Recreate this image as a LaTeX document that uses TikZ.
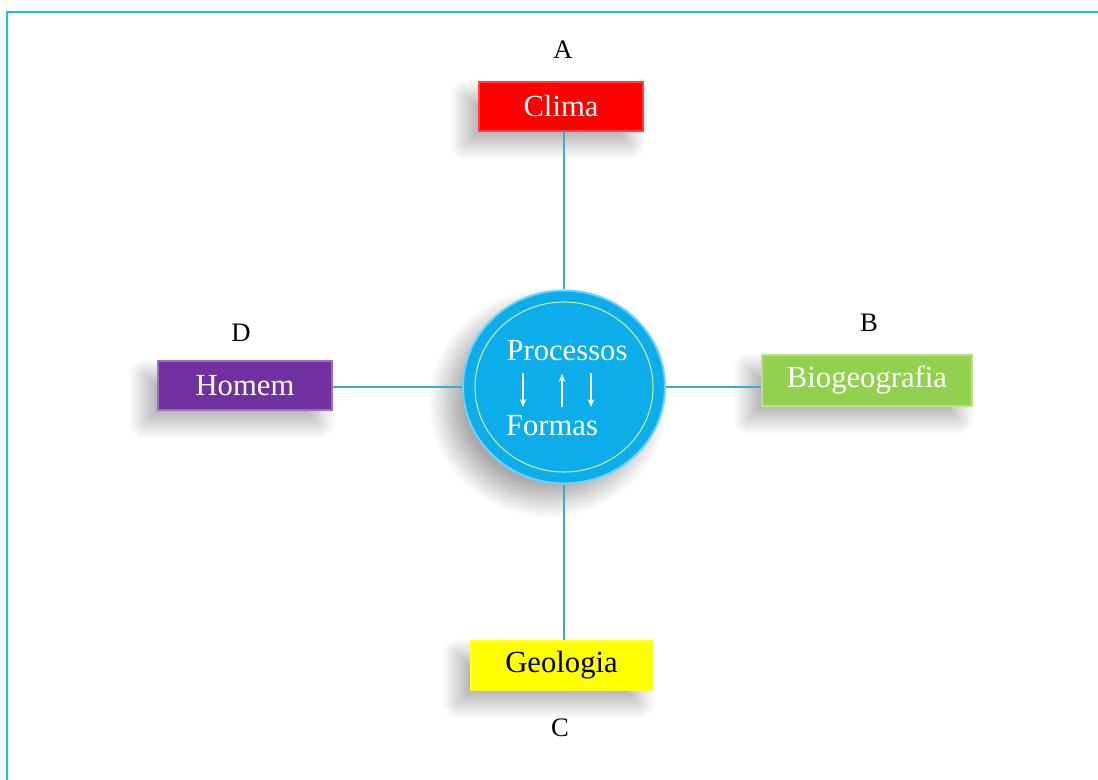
\documentclass[tikz,border=0pt]{standalone}
\usepackage{fontspec}
\setmainfont{Liberation Serif}
\usetikzlibrary{shapes.geometric,shadows.blur,arrows.meta}

\definecolor{framecyan}{HTML}{1CBDEE}
\definecolor{linkblue}{HTML}{3FA9CB}
\definecolor{hubblue}{HTML}{0DACEA}
\definecolor{hubrim}{HTML}{6FD2F5}
\definecolor{hubring}{HTML}{C6F08A}
\definecolor{climared}{HTML}{FF0000}
\definecolor{homempurple}{HTML}{7030A0}
\definecolor{biogreen}{HTML}{92D050}
\definecolor{geoyellow}{HTML}{FFFF00}

\tikzset{
  softshadow/.style={blur shadow={shadow xshift=-10pt, shadow yshift=-10pt,
      shadow blur radius=12pt, shadow blur steps=24, shadow opacity=32}},
  topicbox/.style={rectangle, inner sep=0pt, line width=1pt,
    font=\fontsize{23}{27}\selectfont, softshadow},
  letter/.style={font=\fontsize{20}{24}\selectfont, inner sep=0pt},
  link/.style={draw=linkblue, line width=1.1pt},
  hubtext/.style={font=\fontsize{23}{27}\selectfont, text=white, inner sep=0pt},
  flow/.style={draw=white, line width=0.9pt, -{Stealth[length=6pt,width=5pt]}}
}

\begin{document}
\begin{tikzpicture}[x=0.75pt, y=-0.75pt]
  \useasboundingbox (0,0) rectangle (1098,780);

  % page frame: top and left edges only
  \draw[framecyan, line width=1.6pt] (7,780) -- (7,12) -- (1098,12);

  % central hub
  \node[ellipse, minimum width=151.5pt, minimum height=144.75pt,
        fill=hubblue, draw=hubrim, line width=1.5pt, inner sep=0pt,
        blur shadow={shadow xshift=-12pt, shadow yshift=-12pt,
          shadow blur radius=14pt, shadow blur steps=24, shadow opacity=35}]
        (hub) at (564,387) {};
  \draw[hubring, line width=0.8pt] (hub.center) ellipse [x radius=89, y radius=85];

  \node[hubtext] (proc) at (567,351) {Processos};
  \node[hubtext] (form) at (552,426) {Formas};
  \coordinate (d1a) at (523,373); \coordinate (d1b) at (523,407);
  \coordinate (upa) at (562,407); \coordinate (upb) at (562,374);
  \coordinate (d2a) at (591,373); \coordinate (d2b) at (591,407);
  \draw[flow] (d1a) -- (d1b);
  \draw[flow] (upa) -- (upb);
  \draw[flow] (d2a) -- (d2b);

  % surrounding topics
  \node[topicbox, fill=climared, draw=climared!75!white, text=white,
        minimum width=123pt, minimum height=36.75pt] (clima) at (561,106.5) {Clima};
  \node[topicbox, fill=homempurple, draw=homempurple!70!white, text=white,
        minimum width=130.5pt, minimum height=36.75pt] (homem) at (245,385.5) {Homem};
  \node[topicbox, fill=biogreen, draw=biogreen!65!white, text=white,
        minimum width=157.5pt, minimum height=38.25pt] (bio) at (867,380.5) {Biogeografia};
  \node[topicbox, fill=geoyellow, draw=geoyellow!80!white, text=black,
        minimum width=135.75pt, minimum height=36.75pt] (geo) at (561.5,665.5) {Geologia};

  % letters
  \node[letter] (la) at (563,50) {A};
  \node[letter] (lb) at (869,323) {B};
  \node[letter] (lc) at (560,728) {C};
  \node[letter] (ld) at (241,333) {D};

  % connectors
  \draw[link] (hub.north) -- (hub.north |- clima.south);
  \draw[link] (hub.south) -- (hub.south |- geo.north);
  \draw[link] (hub.west) -- (homem.east |- hub.west);
  \draw[link] (hub.east) -- (bio.west |- hub.east);
\end{tikzpicture}
\end{document}
